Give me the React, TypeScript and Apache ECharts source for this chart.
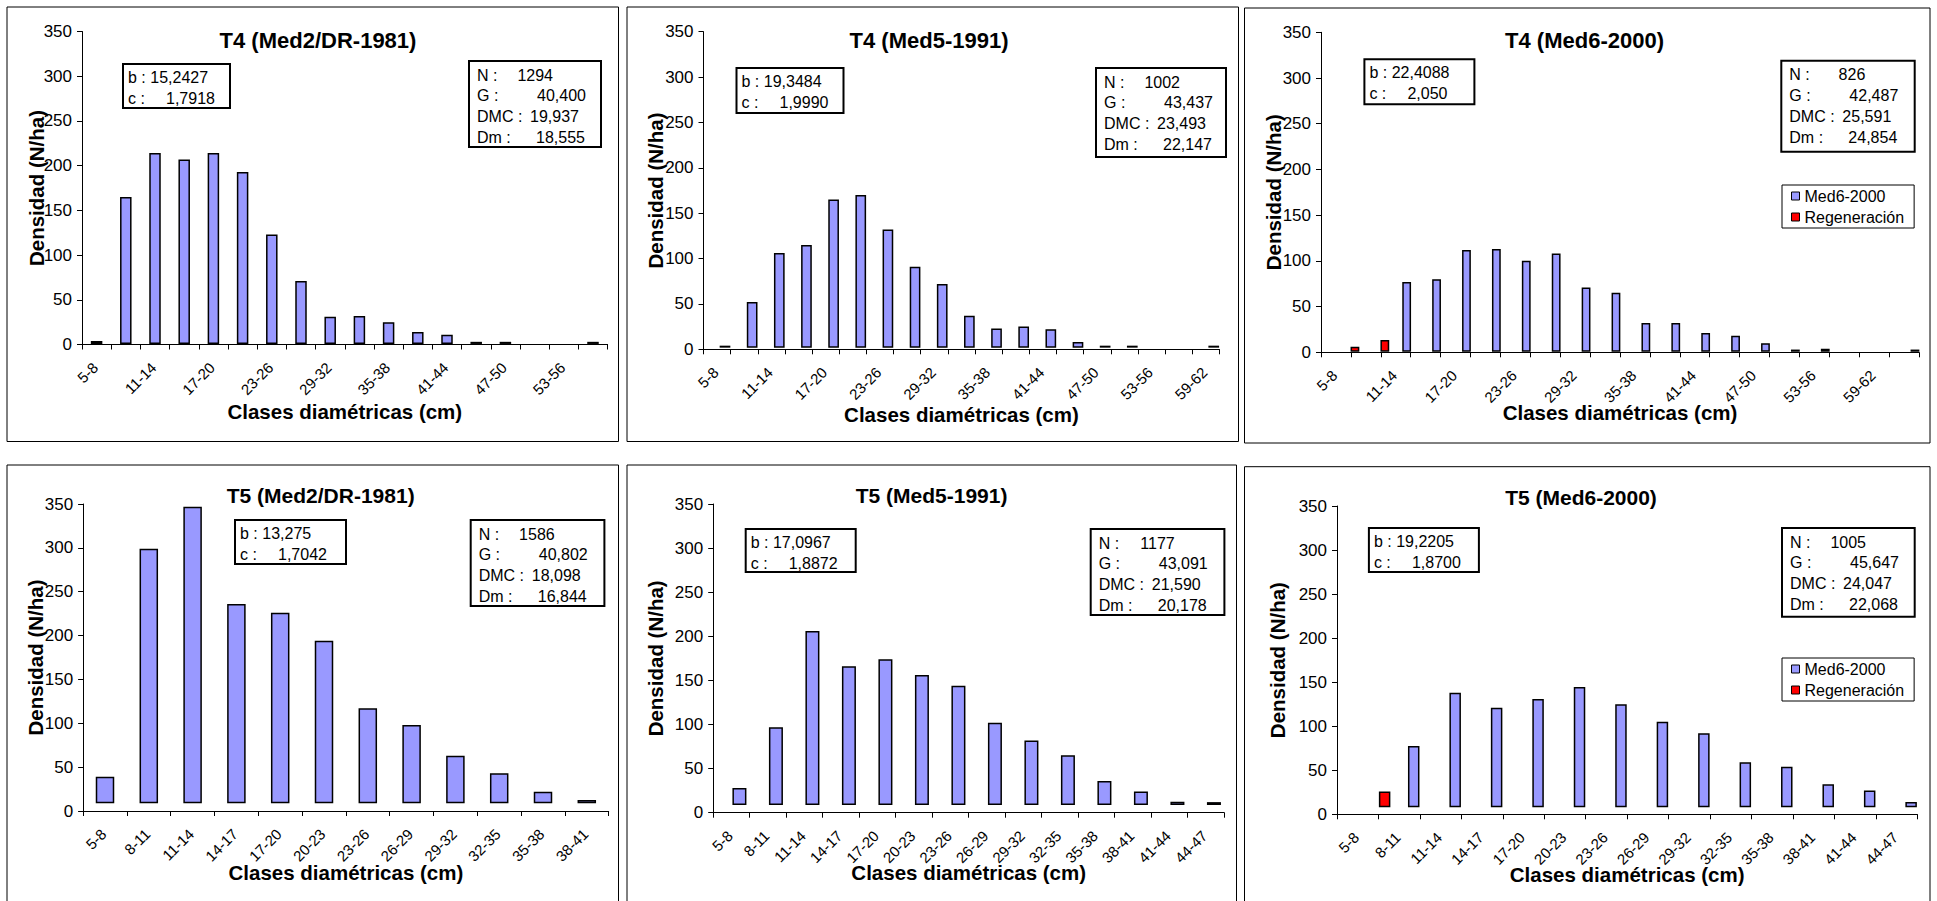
import React, { useEffect, useRef } from "react";
import * as echarts from "echarts";

const FONT = "'Liberation Sans', Arial, Helvetica, sans-serif";
const BLUE = "#9999FF";
const RED = "#FF0000";

// ---------- data ----------
const classLabels = ["5-8", "8-11", "11-14", "14-17", "17-20", "20-23", "23-26", "26-29", "29-32", "32-35", "35-38", "38-41", "41-44", "44-47", "47-50", "50-53", "53-56", "56-59", "59-62", "62-65"];

const panelTitles = ["T4 (Med2/DR-1981)", "T4 (Med5-1991)", "T4 (Med6-2000)", "T5 (Med2/DR-1981)", "T5 (Med5-1991)", "T5 (Med6-2000)"];
const panelClassCounts = [18, 19, 20, 12, 14, 14];
const mainSeriesNames = ["Med2/DR-1981", "Med5-1991", "Med6-2000", "Med2/DR-1981", "Med5-1991", "Med6-2000"];

const t4Med2 = [4, 165, 214, 207, 214, 193, 123, 71, 31, 32, 25, 14, 11, 3, 3, null, null, 3];
const t4Med5 = [4, 52, 106, 115, 165, 170, 132, 91, 72, 37, 23, 25, 22, 8, 4, 4, null, null, 4];
const t4Med6 = [null, null, 77, 80, 112, 113, 100, 108, 71, 65, 32, 32, 21, 18, 10, 3, 4, null, null, 3];
const t4Regen = [null, 6, 13.5, null, null, null, null, null, null, null, null, null, null, null, null, null, null, null, null, null];

const t5Med2 = [39, 299, 347, 236, 226, 194, 117, 98, 63, 43, 22, 12.5];
const t5Med5 = [28, 97, 206, 166, 174, 156, 144, 102, 82, 65, 36, 24, 12.5, 12];
const t5Med6 = [null, 77.5, 138, 121, 131, 144.5, 125, 105, 92, 59, 54, 34, 27, 14];
const t5Regen = [null, 26, null, null, null, null, null, null, null, null, null, null, null, null];

// bottom of the bars (the bars float slightly above the zero line)
const barBase = [0.6, 1.8, 0.6, 8.8, 8.7, 8.0];

const weibullB = ["15,2427", "19,3484", "22,4088", "13,275", "17,0967", "19,2205"];
const weibullC = ["1,7918", "1,9990", "2,050", "1,7042", "1,8872", "1,8700"];
const statLabels = ["N :", "G :", "DMC :", "Dm :"];
const statN = ["1294", "1002", "826", "1586", "1177", "1005"];
const statG = ["40,400", "43,437", "42,487", "40,802", "43,091", "45,647"];
const statDMC = ["19,937", "23,493", "25,591", "18,098", "21,590", "24,047"];
const statDm = ["18,555", "22,147", "24,854", "16,844", "20,178", "22,068"];
const legendNames = ["Med6-2000", "Regeneración"];

const yMin = 0;
const yMax = 350;
const yStep = 50;

const panelMain = [t4Med2, t4Med5, t4Med6, t5Med2, t5Med5, t5Med6];
const panelRegen = [null, "empty", t4Regen, null, "empty", t5Regen];

// ---------- layout ----------
type Layout = {
  border: number[];
  grid: { left: number; top: number; width: number; height: number };
  title: number[];
  titleSize: number;
  bc: number[];
  nb: number[];
  legend: number[] | null;
  xNameGap: number;
  yNameGap: number;
  barWidth: number;
  barGap: string;
  labelInterval: number;
};

const layouts: Layout[] = [
  { border: [7, 7, 618.5, 441.5], grid: { left: 82, top: 31.5, width: 525.6, height: 313 }, title: [318, 41], titleSize: 22, bc: [123, 64, 107, 44], nb: [469, 61, 132, 86], legend: null, xNameGap: 56.5, yNameGap: 35, barWidth: 11.5, barGap: "30%", labelInterval: 1 },
  { border: [627, 7, 1238.5, 441.5], grid: { left: 703.5, top: 31.7, width: 515.9, height: 317.6 }, title: [929, 41], titleSize: 22, bc: [736.5, 68, 107, 45], nb: [1096, 68, 130, 89], legend: null, xNameGap: 54.5, yNameGap: 37.5, barWidth: 10.7, barGap: "48%", labelInterval: 1 },
  { border: [1244.5, 8, 1930, 443], grid: { left: 1321, top: 32.3, width: 598, height: 320 }, title: [1584.5, 41], titleSize: 22, bc: [1364.4, 59.3, 110, 45], nb: [1781.3, 60.7, 133.4, 91], legend: [1782, 185], xNameGap: 50, yNameGap: 37, barWidth: 8.8, barGap: "148%", labelInterval: 1 },
  { border: [7, 465, 618.5, 912], grid: { left: 83.1, top: 504, width: 525.6, height: 307 }, title: [320.7, 496.7], titleSize: 21, bc: [235, 520, 111, 44], nb: [470.7, 520, 133.7, 86], legend: null, xNameGap: 51, yNameGap: 37.5, barWidth: 18.5, barGap: "30%", labelInterval: 0 },
  { border: [627, 465, 1236.5, 912], grid: { left: 713.2, top: 504, width: 511, height: 308.7 }, title: [931.6, 496.7], titleSize: 21, bc: [745.7, 529, 110, 43], nb: [1090.7, 529, 133.7, 86], legend: null, xNameGap: 49.5, yNameGap: 47, barWidth: 14, barGap: "14%", labelInterval: 0 },
  { border: [1244.5, 466.7, 1930, 912], grid: { left: 1337, top: 506, width: 580.3, height: 308.3 }, title: [1581, 498], titleSize: 21, bc: [1368.9, 528, 110, 44], nb: [1782, 528, 132.7, 88.7], legend: [1782, 658], xNameGap: 50, yNameGap: 49, barWidth: 11.5, barGap: "153%", labelInterval: 0 },
];

const nValueRight = [84, 117, 110, 116];

function heightsOf(vals: (number | null)[], base: number) {
  return vals.map((v) => (v == null ? null : v - base));
}
function basesOf(vals: (number | null)[], base: number) {
  return vals.map((v) => (v == null ? null : base));
}

function txt(x: number, y: number, text: string, opts: any = {}) {
  const align = opts.align || "left";
  return {
    type: "text",
    x,
    y,
    z: 20,
    silent: true,
    style: {
      text,
      fill: "#000",
      fontSize: opts.fontSize || 16,
      fontFamily: FONT,
      fontWeight: opts.fontWeight || "normal",
      align,
      textAlign: align,
      verticalAlign: "middle",
      textVerticalAlign: "middle",
    },
  };
}

function box(x: number, y: number, w: number, h: number, lw: number) {
  return {
    type: "rect",
    z: 15,
    silent: true,
    shape: { x, y, width: w, height: h },
    style: { fill: "#fff", stroke: "#000", lineWidth: lw },
  };
}

function buildOption() {
  const grid: any[] = [];
  const xAxis: any[] = [];
  const yAxis: any[] = [];
  const series: any[] = [];
  const title: any[] = [];
  const legend: any[] = [];
  const graphic: any[] = [];

  const stats = [statN, statG, statDMC, statDm];

  layouts.forEach((L, i) => {
    const n = panelClassCounts[i];
    const base = barBase[i];
    grid.push({ ...L.grid, containLabel: false });
    xAxis.push({
      type: "category",
      gridIndex: i,
      data: classLabels.slice(0, n),
      boundaryGap: true,
      axisLine: { show: true, lineStyle: { color: "#000", width: 1 } },
      axisTick: { show: true, interval: 0, length: 5, lineStyle: { color: "#000", width: 1 } },
      axisLabel: { interval: L.labelInterval, rotate: 45, fontSize: 15, fontFamily: FONT, color: "#000", margin: 19, padding: [0, 2, 0, 0] },
      splitLine: { show: false },
      name: "Clases diamétricas (cm)",
      nameLocation: "middle",
      nameGap: L.xNameGap,
      nameMoveOverlap: false,
      nameTextStyle: { fontSize: 20.5, fontWeight: "bold", fontFamily: FONT, color: "#000" },
    });
    yAxis.push({
      type: "value",
      gridIndex: i,
      min: yMin,
      max: yMax,
      interval: yStep,
      axisLine: { show: true, lineStyle: { color: "#000", width: 1 } },
      axisTick: { show: true, length: 5, lineStyle: { color: "#000", width: 1 } },
      axisLabel: { fontSize: 17, fontFamily: FONT, color: "#000", margin: 10 },
      splitLine: { show: false },
      name: "Densidad (N/ha)",
      nameLocation: "middle",
      nameRotate: 90,
      nameGap: L.yNameGap,
      nameMoveOverlap: false,
      nameTextStyle: { fontSize: 20.5, fontWeight: "bold", fontFamily: FONT, color: "#000" },
    });

    const common = {
      type: "bar",
      xAxisIndex: i,
      yAxisIndex: i,
      barWidth: L.barWidth,
      barGap: L.barGap,
      emphasis: { disabled: true },
      silent: true,
    };
    const baseStyle = { color: "rgba(0,0,0,0)", borderWidth: 0 };
    const regen = panelRegen[i];
    if (regen) {
      const rData = regen === "empty" ? new Array(n).fill(null) : (regen as (number | null)[]);
      series.push({ ...common, name: "base", stack: `r${i}`, data: basesOf(rData, base), itemStyle: baseStyle });
      series.push({ ...common, name: "Regeneración", stack: `r${i}`, data: heightsOf(rData, base), itemStyle: { color: RED, borderColor: "#000", borderWidth: 1.5 } });
    }
    const main = panelMain[i];
    series.push({ ...common, name: "base", stack: `m${i}`, data: basesOf(main, base), itemStyle: baseStyle });
    series.push({ ...common, name: mainSeriesNames[i], stack: `m${i}`, data: heightsOf(main, base), itemStyle: { color: BLUE, borderColor: "#000", borderWidth: 1.5 } });

    title.push({
      text: panelTitles[i],
      left: L.title[0],
      top: L.title[1] - L.titleSize / 2 - 1,
      textAlign: "center",
      padding: 0,
      textStyle: { fontSize: L.titleSize, fontWeight: "bold", fontFamily: FONT, color: "#000" },
    });

    if (L.legend) {
      legend.push({
        data: legendNames,
        orient: "vertical",
        left: L.legend[0],
        top: L.legend[1],
        icon: "rect",
        itemWidth: 8,
        itemHeight: 8,
        itemGap: 5,
        padding: [3, 10, 3, 9],
        borderColor: "#000",
        borderWidth: 1,
        backgroundColor: "#fff",
        selectedMode: false,
        itemStyle: { borderColor: "#000", borderWidth: 1 },
        textStyle: { fontSize: 16, fontFamily: FONT, color: "#000" },
      });
    }

    // panel border
    const [bx0, by0, bx1, by1] = L.border;
    graphic.push({
      type: "rect",
      z: 1,
      silent: true,
      shape: { x: bx0, y: by0, width: bx1 - bx0, height: by1 - by0 },
      style: { fill: "none", stroke: "#000", lineWidth: 1 },
    });

    // weibull parameters box
    const [cx, cy, cw, ch] = L.bc;
    graphic.push(box(cx, cy, cw, ch, 2));
    graphic.push(txt(cx + 5, cy + 13, `b : ${weibullB[i]}`));
    graphic.push(txt(cx + 5, cy + 34, "c :"));
    graphic.push(txt(cx + 43, cy + 34, weibullC[i]));

    // stand statistics box
    const [nx, ny, nw, nh] = L.nb;
    graphic.push(box(nx, ny, nw, nh, 2));
    statLabels.forEach((lab, r) => {
      const yy = ny + 14 + r * 20.8;
      graphic.push(txt(nx + 8, yy, lab));
      graphic.push(txt(nx + nValueRight[r], yy, stats[r][i], { align: "right" }));
    });
  });

  return {
    animation: false,
    backgroundColor: "#fff",
    title,
    legend,
    grid,
    xAxis,
    yAxis,
    series,
    graphic: { elements: graphic },
  };
}

export default function App() {
  const ref = useRef<HTMLDivElement>(null);
  useEffect(() => {
    if (!ref.current) return;
    const chart = echarts.init(ref.current, undefined, { renderer: "svg" });
    chart.setOption(buildOption() as any);
    return () => chart.dispose();
  }, []);
  return (
    <div
      ref={ref}
      style={{ position: "fixed", left: 0, top: 0, width: 1937, height: 901, background: "#fff" }}
    />
  );
}
